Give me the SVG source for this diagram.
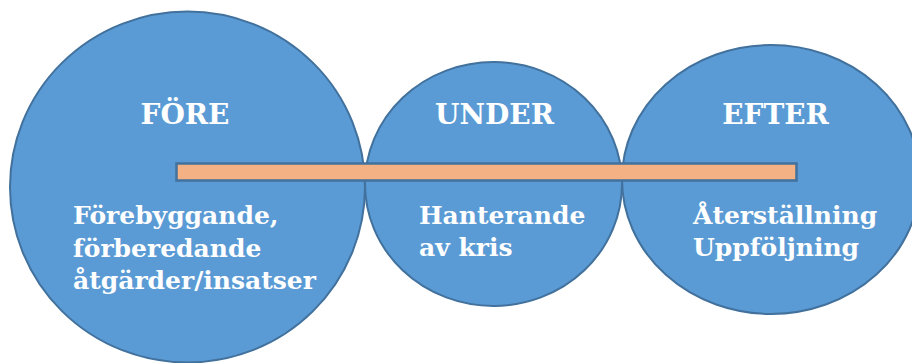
<svg xmlns="http://www.w3.org/2000/svg" width="912" height="363" viewBox="0 0 912 363">
<style>
.c{fill:#5B9BD5;stroke:#41719C;stroke-width:2}
.bar{fill:#F4B183;stroke:#41719C;stroke-width:2.5}
.h{font-family:"DejaVu Serif",Georgia,serif;font-weight:bold;font-size:28px;fill:#fff;text-anchor:middle}
.t{font-family:"DejaVu Serif",Georgia,serif;font-weight:bold;font-size:25px;fill:#fff}
</style>
<rect width="912" height="363" fill="#fff"/>
<g id="fore">
<ellipse class="c" cx="187.5" cy="187" rx="177.5" ry="175.5"/>
</g>
<g id="under">
<ellipse class="c" cx="493.5" cy="184" rx="128.5" ry="122"/>
</g>
<g id="efter">
<ellipse class="c" cx="771" cy="179.5" rx="149" ry="134.5"/>
</g>
<g id="connectors">
<rect class="bar" x="176.5" y="163.5" width="620" height="17"/>
</g>
<g id="labels">
<text class="h" x="185" y="124">FÖRE</text>
<text class="h" x="494.5" y="124">UNDER</text>
<text class="h" x="775.5" y="124">EFTER</text>
<text class="t" x="73" y="224">Förebyggande,</text>
<text class="t" x="73" y="256.5">förberedande</text>
<text class="t" x="73" y="289">åtgärder/insatser</text>
<text class="t" x="419" y="224">Hanterande</text>
<text class="t" x="419" y="256">av kris</text>
<text class="t" x="693" y="224">Återställning</text>
<text class="t" x="693" y="255.5">Uppföljning</text>
</g>
</svg>
